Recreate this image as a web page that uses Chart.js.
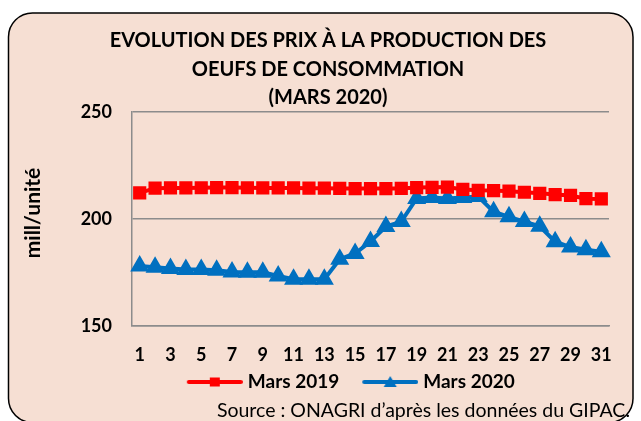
<!DOCTYPE html>
<html lang="fr">
<head>
<meta charset="utf-8">
<title>Evolution des prix à la production des oeufs de consommation</title>
<script src="https://cdn.jsdelivr.net/npm/chart.js@4.4.1/dist/chart.umd.min.js"></script>
<style>
  html, body { margin: 0; padding: 0; background: #ffffff; }
  #cadre { position: relative; width: 641px; height: 421px; }
</style>
</head>
<body>
<div id="cadre"><canvas id="prixChart"></canvas></div>
<script>
// données (mill/unité)
const jours = ["1", "2", "3", "4", "5", "6", "7", "8", "9", "10", "11", "12", "13", "14", "15", "16",
  "17", "18", "19", "20", "21", "22", "23", "24", "25", "26", "27", "28", "29", "30", "31"];
const mars2019 = [212.2, 214.4, 214.5, 214.5, 214.6, 214.7, 214.7, 214.6, 214.5, 214.5, 214.5, 214.4,
  214.4, 214.3, 214.2, 214.2, 214.2, 214.3, 214.7, 214.8, 214.9, 213.8, 213.4, 213.3, 213.0, 212.5,
  212.0, 211.4, 211.0, 209.5, 209.4];
const mars2020 = [178.0, 177.4, 176.9, 176.4, 176.4, 176.1, 175.2, 175.1, 175.1, 173.4, 171.9, 171.9,
  171.9, 181.2, 183.9, 189.5, 196.5, 198.8, 209.6, 210.0, 209.6, 210.0, 210.5, 203.4, 201.0, 198.8,
  196.6, 189.4, 186.9, 185.6, 184.7];
const seriesNoms = ["Mars 2019", "Mars 2020"];
const yTicks = [150, 200, 250];

const titreLignes = ["EVOLUTION DES PRIX À LA PRODUCTION DES", "OEUFS DE CONSOMMATION", "(MARS 2020)"];
const uniteY = "mill/unité";
const sourceTexte = "Source : ONAGRI d’après les données du GIPAC.";

const POLICE = "Lato, 'Open Sans', 'DejaVu Sans', sans-serif";
const ROUGE = "#ff0000";
const BLEU = "#0070c0";
const FOND = "#f6dfd3";
const GRILLE = "#8c8c8c";

// icône de légende : trait + marqueur, calé à droite de l'image
function iconeLegende(couleur, forme) {
  const c = document.createElement("canvas");
  c.width = 75;
  c.height = 14;
  const ctx = c.getContext("2d");
  ctx.strokeStyle = couleur;
  ctx.lineWidth = 4;
  ctx.lineCap = "round";
  ctx.beginPath();
  ctx.moveTo(21, 7);
  ctx.lineTo(73, 7);
  ctx.stroke();
  ctx.fillStyle = couleur;
  if (forme === "carre") {
    ctx.fillRect(42, 2.5, 10, 9);
  } else {
    ctx.beginPath();
    ctx.moveTo(47, 1);
    ctx.lineTo(53.5, 12);
    ctx.lineTo(40.5, 12);
    ctx.closePath();
    ctx.fill();
  }
  return c;
}
const icones = [iconeLegende(ROUGE, "carre"), iconeLegende(BLEU, "triangle")];

// fond arrondi, titre, unité et source
const habillage = {
  id: "habillage",
  beforeDraw(chart) {
    const ctx = chart.ctx;
    ctx.save();
    ctx.fillStyle = "#ffffff";
    ctx.fillRect(0, 0, chart.width, chart.height);
    ctx.beginPath();
    ctx.roundRect(8.5, 13, 624.5, 409.5, 24);
    ctx.fillStyle = FOND;
    ctx.fill();
    ctx.lineWidth = 1.5;
    ctx.strokeStyle = "#000000";
    ctx.stroke();

    ctx.fillStyle = "#000000";
    ctx.textAlign = "center";
    ctx.textBaseline = "middle";
    ctx.font = "bold 20px " + POLICE;
    titreLignes.forEach((t, i) => ctx.fillText(t, 328, 41 + i * 28.5));

    ctx.font = "bold 21px " + POLICE;
    ctx.translate(33, 213);
    ctx.rotate(-Math.PI / 2);
    ctx.fillText(uniteY, 0, 0);
    ctx.restore();

    ctx.save();
    ctx.fillStyle = "#000000";
    ctx.font = "19.5px " + POLICE;
    ctx.textAlign = "right";
    ctx.textBaseline = "middle";
    ctx.fillText(sourceTexte, 630, 411);
    ctx.restore();
  }
};

new Chart(document.getElementById("prixChart"), {
  type: "line",
  data: {
    labels: jours,
    datasets: [
      {
        label: seriesNoms[0],
        data: mars2019,
        borderColor: ROUGE,
        backgroundColor: ROUGE,
        borderWidth: 4,
        pointStyle: "rect",
        pointRadius: 6.5,
        pointHoverRadius: 6.5,
        tension: 0
      },
      {
        label: seriesNoms[1],
        data: mars2020,
        borderColor: BLEU,
        backgroundColor: BLEU,
        borderWidth: 4,
        pointStyle: "triangle",
        pointRadius: 7,
        pointHoverRadius: 7,
        tension: 0
      }
    ]
  },
  options: {
    responsive: true,
    maintainAspectRatio: false,
    animation: false,
    layout: { padding: { left: 78, right: 32, top: 112, bottom: 19.5 } },
    plugins: {
      title: { display: false },
      tooltip: { enabled: false },
      legend: {
        position: "bottom",
        labels: {
          usePointStyle: true,
          pointStyleWidth: 66,
          padding: 8.5,
          color: "#000000",
          font: { family: POLICE, size: 19, weight: "bold" },
          generateLabels(chart) {
            const items = Chart.defaults.plugins.legend.labels.generateLabels(chart);
            items.forEach((it, i) => { it.pointStyle = icones[i]; });
            return items;
          }
        }
      }
    },
    scales: {
      x: {
        offset: true,
        grid: { display: false, drawTicks: false },
        border: { display: true, color: GRILLE, width: 1.5 },
        ticks: {
          autoSkip: false,
          maxRotation: 0,
          padding: 18,
          color: "#000000",
          font: { family: POLICE, size: 18, weight: "bold" },
          callback(value, index) { return index % 2 === 0 ? jours[index] : ""; }
        },
        afterFit(scale) { scale.height = 38; }
      },
      y: {
        min: yTicks[0],
        max: yTicks[yTicks.length - 1],
        afterBuildTicks(scale) { scale.ticks = yTicks.map(v => ({ value: v })); },
        grid: { color: GRILLE, lineWidth: 1.5, drawTicks: false },
        border: { display: true, color: GRILLE, width: 1.5 },
        ticks: {
          padding: 20,
          color: "#000000",
          font: { family: POLICE, size: 18, weight: "bold" }
        },
        afterFit(scale) { scale.width = 54; }
      }
    }
  },
  plugins: [habillage]
});
</script>
</body>
</html>
